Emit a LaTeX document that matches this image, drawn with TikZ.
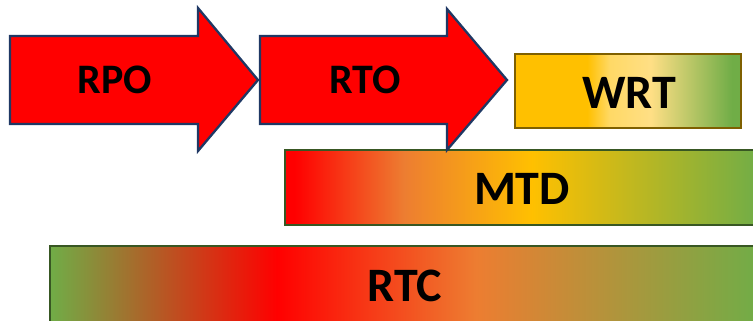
\documentclass[tikz,border=0pt]{standalone}
\usepackage{fontspec}
\setmainfont{Carlito}
\definecolor{arrowred}{HTML}{FF0000}
\definecolor{navyedge}{HTML}{1F3864}
\definecolor{goldedge}{HTML}{7F6000}
\definecolor{greenedge}{HTML}{385723}
\definecolor{gOrange}{HTML}{FFC000}
\definecolor{gLight}{HTML}{FFD966}
\definecolor{gPale}{HTML}{FFDF85}
\definecolor{gGreen}{HTML}{70AD47}
\definecolor{gRed}{HTML}{FF0000}
\definecolor{gAmber}{HTML}{ED7D31}
% Shadings: useful range is 25bp..75bp (fitted to the path's bounding box)
\pgfdeclarehorizontalshading{wrtshade}{100bp}{%
  color(0bp)=(gOrange); color(25bp)=(gOrange); color(41bp)=(gOrange);
  color(46bp)=(gLight); color(55bp)=(gPale); color(73bp)=(gGreen);
  color(75bp)=(gGreen); color(100bp)=(gGreen)}
\pgfdeclarehorizontalshading{mtdshade}{100bp}{%
  color(0bp)=(gRed); color(25bp)=(gRed); color(26bp)=(gRed);
  color(37.5bp)=(gAmber); color(51bp)=(gOrange); color(75bp)=(gGreen);
  color(100bp)=(gGreen)}
\pgfdeclarehorizontalshading{rtcshade}{100bp}{%
  color(0bp)=(gGreen); color(25bp)=(gGreen); color(41bp)=(gRed);
  color(55bp)=(gAmber); color(75bp)=(gGreen); color(100bp)=(gGreen)}
\tikzset{
  bigarrow/.style={fill=arrowred, draw=navyedge, line width=2.3pt, line join=miter},
  bar/.style={line width=2.5pt},
  lbl/.style={font=\fontsize{42}{42}\selectfont\bfseries, text=black, inner sep=0pt},
  lblbig/.style={font=\fontsize{48}{48}\selectfont\bfseries, text=black, inner sep=0pt}
}
\begin{document}
\begin{tikzpicture}[x=1pt,y=-1pt]
\useasboundingbox (0,0) rectangle (753,321);
% bars
\path[bar, draw=greenedge, shading=rtcshade] (50,246) rectangle (760,322);
\path[bar, draw=greenedge, shading=mtdshade] (285,150) rectangle (760,225);
\path[bar, draw=goldedge, shading=wrtshade] (515,54) rectangle (741,128);
% arrows
\draw[bigarrow] (10,36) -- (198,36) -- (198,8) -- (258,80) -- (198,151) -- (198,124) -- (10,124) -- cycle;
\draw[bigarrow] (260,36) -- (447,36) -- (447,9) -- (507,80) -- (447,150) -- (447,124) -- (260,124) -- cycle;
% labels
\node[lbl] (rpo) at (115,80) {RPO};
\node[lbl] (rto) at (365,80) {RTO};
\node[lblbig] (wrt) at (629,93) {WRT};
\node[lblbig] (mtd) at (522,189) {MTD};
\node[lblbig] (rtc) at (405,286) {RTC};
\end{tikzpicture}
\end{document}
